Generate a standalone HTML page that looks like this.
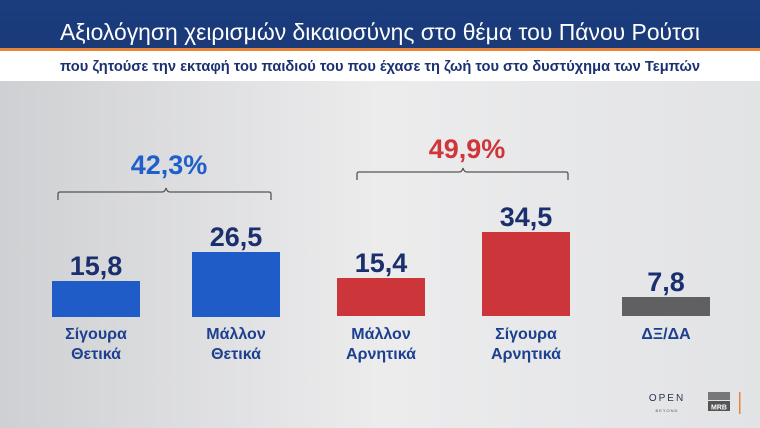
<!DOCTYPE html>
<html><head><meta charset="utf-8"><style>
html,body{margin:0;padding:0;width:760px;height:428px;overflow:hidden;background:#e6e6e8}
svg{display:block}
text{font-family:"Liberation Sans","DejaVu Sans",sans-serif}
</style></head><body>
<svg width="760" height="428" viewBox="0 0 760 428">
<defs>
<linearGradient id="bg" x1="0" y1="0" x2="1" y2="0">
<stop offset="0" stop-color="#cfd0d3"/><stop offset="0.5" stop-color="#ececed"/><stop offset="1" stop-color="#e2e3e5"/>
</linearGradient>
<linearGradient id="hd" x1="0" y1="0" x2="0" y2="1">
<stop offset="0" stop-color="#1b3c7e"/><stop offset="1" stop-color="#1a3a78"/>
</linearGradient>
</defs>
<rect width="760" height="428" fill="url(#bg)"/>
<rect width="760" height="48" fill="url(#hd)"/>
<rect y="48" width="760" height="3" fill="#e8833a"/>
<rect y="51" width="760" height="30" fill="#ffffff"/>
<text x="380" y="40" font-size="23" fill="#ffffff" text-anchor="middle" textLength="640" lengthAdjust="spacingAndGlyphs">Αξιολόγηση χειρισμών δικαιοσύνης στο θέμα του Πάνου Ρούτσι</text>
<text x="380" y="71" font-size="15" font-weight="bold" fill="#1b3170" text-anchor="middle" textLength="640" lengthAdjust="spacingAndGlyphs">που ζητούσε την εκταφή του παιδιού του που έχασε τη ζωή του στο δυστύχημα των Τεμπών</text>

<!-- braces -->
<path d="M58 200 V194 Q58 192 60 192 H162 Q165 192 166 188 Q167 192 170 192 H269 Q271 192 271 194 V200" fill="none" stroke="#555" stroke-width="1.3"/>
<path d="M357 180 V174 Q357 172 359 172 H459 Q462 172 463 168 Q464 172 467 172 H566 Q568 172 568 174 V180" fill="none" stroke="#555" stroke-width="1.3"/>
<text x="169" y="174" font-size="27" font-weight="bold" fill="#1f5fcc" text-anchor="middle">42,3%</text>
<text x="467" y="158" font-size="27" font-weight="bold" fill="#d0353a" text-anchor="middle">49,9%</text>

<!-- bars -->
<rect x="52" y="281" width="88" height="36" fill="#1f5cc8"/>
<rect x="192" y="252" width="88" height="65" fill="#1f5cc8"/>
<rect x="337" y="278" width="88" height="38" fill="#cc3539"/>
<rect x="482" y="232" width="88" height="84" fill="#cc3539"/>
<rect x="622" y="297" width="88" height="19" fill="#606062"/>

<g font-size="27" font-weight="bold" fill="#1b2f6e" text-anchor="middle">
<text x="96" y="275">15,8</text>
<text x="236" y="246">26,5</text>
<text x="381" y="272">15,4</text>
<text x="526" y="226">34,5</text>
<text x="666" y="291">7,8</text>
</g>
<g font-size="16" font-weight="bold" fill="#1d3f90" text-anchor="middle">
<text x="96" y="339">Σίγουρα</text><text x="96" y="359">Θετικά</text>
<text x="236" y="339">Μάλλον</text><text x="236" y="359">Θετικά</text>
<text x="381" y="339">Μάλλον</text><text x="381" y="359">Αρνητικά</text>
<text x="526" y="339">Σίγουρα</text><text x="526" y="359">Αρνητικά</text>
<text x="666" y="339">ΔΞ/ΔΑ</text>
</g>

<!-- logos -->
<text x="667" y="401" font-size="10" fill="#2a3550" text-anchor="middle" letter-spacing="2">OPEN</text>
<text x="667" y="412" font-size="4" fill="#555" text-anchor="middle" letter-spacing="1">BEYOND</text>
<rect x="708" y="392" width="22" height="8" fill="#777"/>
<rect x="708" y="401" width="22" height="10" fill="#555"/>
<text x="719" y="409.5" font-size="7" font-weight="bold" fill="#fff" text-anchor="middle">MRB</text>
<rect x="739" y="392" width="1.5" height="22" fill="#e8833a"/>
</svg>
</body></html>
